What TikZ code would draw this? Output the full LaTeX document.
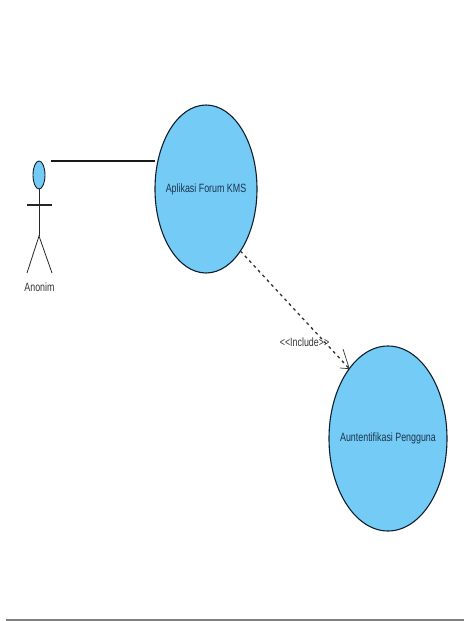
\documentclass[tikz,border=0pt]{standalone}
\usepackage{fontspec}
\setmainfont{Liberation Sans}
\newfontfamily\narrowfont[FakeStretch=0.74]{Liberation Sans}
\usetikzlibrary{shapes.geometric}
\definecolor{ucfill}{HTML}{74CBF5}
\definecolor{uctext}{HTML}{1C3550}
\definecolor{ucline}{HTML}{10202E}
\tikzset{
  px/.style={x=1pt,y=-1pt},
  usecase/.style={draw=ucline,line width=1.1pt,fill=ucfill,ellipse,inner sep=0pt,outer sep=0pt,text=uctext,font=\narrowfont\fontsize{12}{14}\selectfont},
  actorline/.style={draw=black!85,line width=.8pt},
  lbl/.style={inner sep=0pt,text=black!80,font=\narrowfont\fontsize{12}{14}\selectfont},
  assoc/.style={draw=black!90,line width=1.5pt},
  incl/.style={draw=black!80,line width=1.3pt,dash pattern=on 3pt off 3.5pt},
  barb/.style={draw=black!80,line width=.7pt},
}
\begin{document}
\begin{tikzpicture}[px]
\useasboundingbox (0,0) rectangle (464,621);
\node[usecase,minimum width=102pt,minimum height=168pt] (forum) at (206,189) {\makebox[0pt]{Aplikasi Forum KMS}};
\node[usecase,minimum width=118pt,minimum height=185pt] (auth) at (388,438.5) {\makebox[0pt]{Auntentifikasi Pengguna}};
% actor
\node[draw=ucline,line width=.9pt,fill=ucfill,ellipse,minimum width=12pt,minimum height=28pt,inner sep=0pt,outer sep=0pt] (head) at (39,175) {};
\coordinate (hip) at (39,236);
\coordinate (armL) at (27,205);
\coordinate (armR) at (52,205);
\coordinate (footL) at (27,273);
\coordinate (footR) at (52,273);
\coordinate (assocStart) at (51,161);
\draw[actorline] (head.south) -- (hip);
\draw[actorline] (footL) -- (hip) -- (footR);
\draw[draw=black!85,line width=1.2pt] (armL) -- (armR);
\node[lbl] (anonim) at (39.5,287) {Anonim};
% connectors
\draw[assoc] (assocStart) -- (forum.west |- assocStart);
\draw[incl] (forum.-61.6) -- (auth.119);
\coordinate (barbA) at (343,349);
\coordinate (barbB) at (340,368);
\draw[barb] (barbA) -- (auth.119) -- (barbB);
\node[lbl] (include) at (304.5,342) {<{}<Include>{}>};
% bottom rule
\coordinate (ruleL) at (6,620);
\coordinate (ruleR) at (464,620);
\draw[draw=black!50,line width=1.6pt] (ruleL) -- (ruleR);
\end{tikzpicture}
\end{document}
